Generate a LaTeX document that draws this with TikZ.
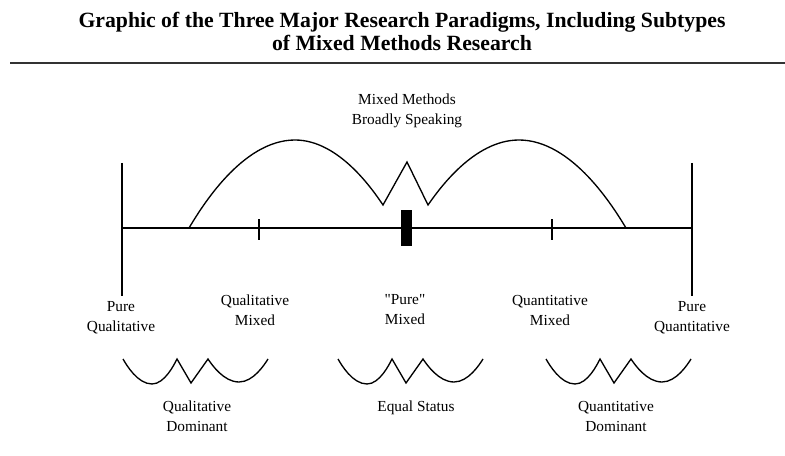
\documentclass[tikz,border=0pt]{standalone}
\usepackage{fontspec}
\setmainfont{Liberation Serif}
\newfontfamily\rawserif{Liberation Serif}[Ligatures=TeXOff]
\usetikzlibrary{positioning}

\begin{document}
\begin{tikzpicture}[x=0.75pt, y=-0.75pt, line width=1pt,
  ttl/.style={font=\fontsize{16.3}{19}\selectfont\bfseries, inner sep=0pt},
  lbl/.style={align=center, font=\fontsize{11.5}{15}\selectfont, inner sep=0pt},
  dipwave/.pic={
    \draw (0,0) parabola bend (29,25) (54,0) -- (68,24) -- (85,0)
      parabola bend (116,23) (145,0);
  }]
  \fill[white] (0,0) rectangle (785,456);
  \useasboundingbox (0,0) rectangle (785,456);

  % heading
  \node[ttl] (title1) at (402,22) {Graphic of the Three Major Research Paradigms, Including Subtypes};
  \node[ttl] (title2) at (402,43) {of Mixed Methods Research};
  \coordinate (ruleL) at (10,63);
  \coordinate (ruleR) at (785,63);
  \draw[line width=2pt, black!80] (ruleL) -- (ruleR);

  % continuum
  \coordinate (qual) at (122,228);
  \coordinate (quan) at (692,228);
  \coordinate (qualtop) at (122,163);
  \coordinate (qualbot) at (122,296);
  \coordinate (quantop) at (692,163);
  \coordinate (quanbot) at (692,296);
  \draw (qual) -- (quan);
  \draw (qualtop) -- (qualbot);
  \draw (quantop) -- (quanbot);
  \draw[line width=1.3pt] (259,219) -- (259,240);
  \draw[line width=1.3pt] (552,219) -- (552,240);
  \fill (401,210) rectangle (412,246);

  % mixed methods broadly speaking
  \draw (189,228) parabola bend (295,140) (383,205) -- (407,162) -- (428,205)
    parabola bend (519,140) (626,228);
  \node[lbl] (mmbroad) at (407,111) {Mixed Methods\\Broadly Speaking};

  \node[lbl] (purequal) at (121,318) {Pure\\Qualitative};
  \node[lbl] (qualmix) at (255,310) {Qualitative\\Mixed};
  \node[lbl] (puremix) at (405,310) {{\rawserif"Pure"}\\Mixed};
  \node[lbl] (quanmix) at (550,310) {Quantitative\\Mixed};
  \node[lbl] (purequan) at (692,318) {Pure\\Quantitative};

  % subtypes
  \pic (qualwave) at (123,359) {dipwave};
  \pic (equalwave) at (338,359) {dipwave};
  \pic (quanwave) at (546,359) {dipwave};
  \node[lbl] (qualdom) at (197,416) {Qualitative\\Dominant};
  \node[lbl] (equal) at (416,408) {Equal Status};
  \node[lbl] (quandom) at (616,416) {Quantitative\\Dominant};
\end{tikzpicture}
\end{document}
